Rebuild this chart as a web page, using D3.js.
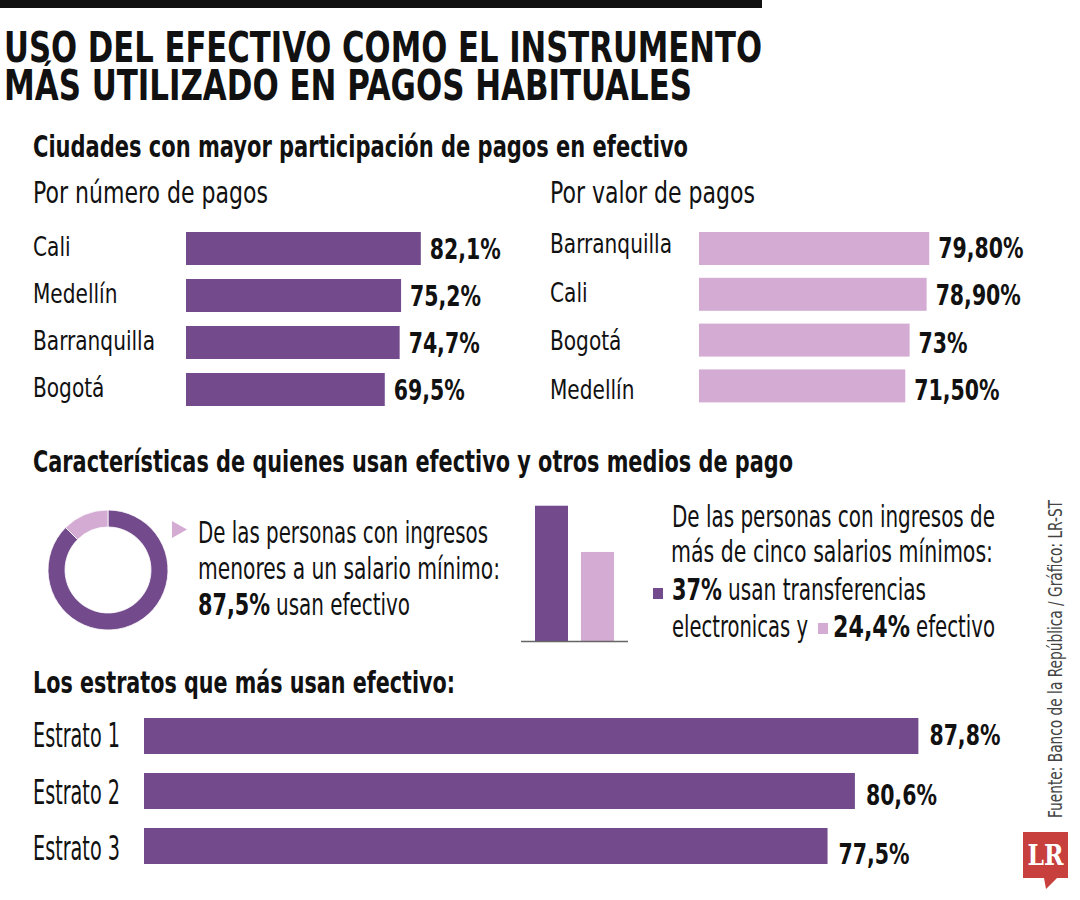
<!DOCTYPE html>
<html><head><meta charset="utf-8">
<script src="https://cdn.jsdelivr.net/npm/d3@7"></script>
<style>body{margin:0;background:#fff} svg{display:block}</style>
</head><body>
<svg id="c" width="1080" height="900"></svg>
<script>
// ---------- DATA ----------
const numCities = ["Cali", "Medellín", "Barranquilla", "Bogotá"];
const numValues = [82.1, 75.2, 74.7, 69.5];
const numLabels = ["82,1%", "75,2%", "74,7%", "69,5%"];

const valCities = ["Barranquilla", "Cali", "Bogotá", "Medellín"];
const valValues = [79.8, 78.9, 73, 71.5];
const valLabels = ["79,80%", "78,90%", "73%", "71,50%"];

const donutParts = ["Efectivo", "Otros"];
const donutValues = [87.5, 12.5];

const highCats = ["Transferencias", "Efectivo"];
const highValues = [37, 24.4];

const strata = ["Estrato 1", "Estrato 2", "Estrato 3"];
const strataValues = [87.8, 80.6, 77.5];
const strataLabels = ["87,8%", "80,6%", "77,5%"];

// ---------- STYLE ----------
const DARK = "#734a8c", LIGHT = "#d4acd3", INK = "#111";
const FONT = "'Liberation Sans Narrow','DejaVu Sans Condensed','Liberation Sans',sans-serif";
const svg = d3.select("#c");

function measure(s, size, bold) {
  const e = svg.append("text").attr("font-family", FONT).attr("font-size", size)
    .attr("font-weight", bold ? 700 : 400).text(s);
  const w = e.node().getComputedTextLength(); e.remove(); return w;
}
function txt(g, x, y, s, o = {}) {
  const e = g.append("text").attr("x", x).attr("y", y).text(s)
    .attr("font-family", FONT).attr("font-size", o.size || 27)
    .attr("font-weight", o.bold ? 700 : 400).attr("fill", o.fill || INK);
  if (o.anchor) e.attr("text-anchor", o.anchor);
  if (o.w) e.attr("textLength", o.w).attr("lengthAdjust", "spacingAndGlyphs");
  else if (o.k) {
    const n = e.node().getComputedTextLength();
    e.attr("textLength", n * o.k).attr("lengthAdjust", "spacingAndGlyphs");
  }
  return e;
}
// condensing factors derived from reference text widths
const kReg = 122 / measure("Barranquilla", 27, false);
const kBold = 71 / measure("82,1%", 28, true);
const kRegBig = 87 / measure("Estrato 1", 33, false);

// ---------- HEADER ----------
svg.append("rect").attr("x", 0).attr("y", 0).attr("width", 762).attr("height", 8).attr("fill", INK);
txt(svg, 4, 62, "USO DEL EFECTIVO COMO EL INSTRUMENTO", {size: 43, bold: true, w: 758});
txt(svg, 4, 100, "MÁS UTILIZADO EN PAGOS HABITUALES", {size: 43, bold: true, w: 688});
txt(svg, 33, 157, "Ciudades con mayor participación de pagos en efectivo", {size: 30, bold: true, w: 655});
txt(svg, 33, 203, "Por número de pagos", {size: 31, w: 235});
txt(svg, 550, 203, "Por valor de pagos", {size: 31, w: 205});

// ---------- LEFT BARS (por número) ----------
const xL = d3.scaleLinear().domain([0, 100]).range([186, 186 + 286]);
const yL = d3.scaleBand().domain(numCities).range([232, 232 + 3 * 47 + 33]).paddingInner(14 / 47).paddingOuter(0);
const gL = svg.append("g");
gL.selectAll("rect").data(numCities).join("rect")
  .attr("x", xL(0)).attr("y", d => yL(d))
  .attr("width", (d, i) => xL(numValues[i]) - xL(0)).attr("height", yL.bandwidth())
  .attr("fill", DARK);
numCities.forEach((c, i) => {
  txt(gL, 33, yL(c) + 24, c, {size: 27, k: kReg});
  txt(gL, xL(numValues[i]) + 9, yL(c) + 27, numLabels[i], {size: 28, bold: true, k: kBold});
});

// ---------- RIGHT BARS (por valor) ----------
const xR = d3.scaleLinear().domain([0, 100]).range([699, 699 + 288.5]);
const yR = d3.scaleBand().domain(valCities).range([232, 232 + 3 * 45.8 + 33]).paddingInner(12.8 / 45.8).paddingOuter(0);
const yRlab = d3.scalePoint().domain(valCities).range([253, 253 + 3 * 48.7]);
const yRval = d3.scalePoint().domain(valCities).range([258, 258 + 3 * 47.3]);
const gR = svg.append("g");
gR.selectAll("rect").data(valCities).join("rect")
  .attr("x", xR(0)).attr("y", d => yR(d))
  .attr("width", (d, i) => xR(valValues[i]) - xR(0)).attr("height", yR.bandwidth())
  .attr("fill", LIGHT);
valCities.forEach((c, i) => {
  txt(gR, 550, yRlab(c), c, {size: 27, k: kReg});
  txt(gR, xR(valValues[i]) + 9, yRval(c), valLabels[i], {size: 28, bold: true, k: kBold});
});

// ---------- SECTION 2 ----------
txt(svg, 33, 472, "Características de quienes usan efectivo y otros medios de pago", {size: 30, bold: true, w: 760});

// donut
const pie = d3.pie().sort(null).value(d => d);
const arc = d3.arc().innerRadius(43).outerRadius(60);
const gD = svg.append("g").attr("transform", "translate(108,570)");
gD.selectAll("path").data(pie(donutValues)).join("path")
  .attr("d", arc).attr("fill", (d, i) => i === 0 ? DARK : LIGHT)
  .attr("stroke", "#fff").attr("stroke-width", 0.8);
svg.append("path").attr("d", "M172,521 L187,529.5 L172,538 Z").attr("fill", LIGHT);
txt(svg, 198, 543, "De las personas con ingresos", {size: 30, w: 290});
txt(svg, 198, 579, "menores a un salario mínimo:", {size: 30, w: 302});
txt(svg, 198, 615, "87,5%", {size: 30, bold: true, w: 72});
txt(svg, 276, 615, "usan efectivo", {size: 30, w: 134});

// mini bar chart
const xM = d3.scaleBand().domain(highCats).range([535, 614]).paddingInner(13 / 46).paddingOuter(0);
const yM = d3.scaleLinear().domain([0, 100]).range([641.5, 641.5 - 367]);
svg.append("g").selectAll("rect").data(highCats).join("rect")
  .attr("x", d => xM(d)).attr("y", (d, i) => yM(highValues[i]))
  .attr("width", xM.bandwidth()).attr("height", (d, i) => yM(0) - yM(highValues[i]))
  .attr("fill", (d, i) => i === 0 ? DARK : LIGHT);
svg.append("line").attr("x1", 521).attr("x2", 628).attr("y1", 641.5).attr("y2", 641.5)
  .attr("stroke", "#666").attr("stroke-width", 1.6);

txt(svg, 672, 527, "De las personas con ingresos de", {size: 30, w: 323});
txt(svg, 671, 562, "más de cinco salarios mínimos:", {size: 30, w: 322});
svg.append("rect").attr("x", 653).attr("y", 588).attr("width", 10).attr("height", 11).attr("fill", DARK);
txt(svg, 672, 600, "37%", {size: 30, bold: true, w: 50});
txt(svg, 728, 600, "usan transferencias", {size: 30, w: 198});
txt(svg, 672, 637, "electronicas y", {size: 30, w: 136});
svg.append("rect").attr("x", 818).attr("y", 623).attr("width", 10).attr("height", 11).attr("fill", LIGHT);
txt(svg, 833, 637, "24,4%", {size: 30, bold: true, w: 77});
txt(svg, 916, 637, "efectivo", {size: 30, w: 79});

// ---------- SECTION 3 : ESTRATOS ----------
txt(svg, 33, 693, "Los estratos que más usan efectivo:", {size: 30, bold: true, w: 422});
const xS = d3.scaleLinear().domain([0, 100]).range([144, 144 + 882]);
const yS = d3.scaleBand().domain(strata).range([718, 718 + 2 * 55 + 36]).paddingInner(19 / 55).paddingOuter(0);
const ySlab = d3.scalePoint().domain(strata).range([747, 747 + 2 * 56.5]);
const ySval = d3.scalePoint().domain(strata).range([745, 745 + 2 * 59.5]);
const gS = svg.append("g");
gS.selectAll("rect").data(strata).join("rect")
  .attr("x", xS(0)).attr("y", d => yS(d))
  .attr("width", (d, i) => xS(strataValues[i]) - xS(0)).attr("height", yS.bandwidth())
  .attr("fill", DARK);
strata.forEach((s, i) => {
  txt(gS, 33, ySlab(s), s, {size: 33, k: kRegBig});
  txt(gS, xS(strataValues[i]) + 11, ySval(s), strataLabels[i], {size: 28, bold: true, k: kBold});
});

// ---------- SOURCE + LOGO ----------
txt(svg, 0, 0, "Fuente: Banco de la República / Gráfico: LR-ST", {size: 20, fill: "#444", w: 318})
  .attr("transform", "translate(1062,818) rotate(-90)");
svg.append("path").attr("d", "M1023,832 H1068 V878 H1057 L1046,889 L1044,878 H1023 Z").attr("fill", "#c8403d");
svg.append("text").attr("x", 1045.5).attr("y", 865).attr("text-anchor", "middle")
  .attr("font-family", "'DejaVu Serif','Liberation Serif',serif").attr("font-weight", 700)
  .attr("font-size", 28).attr("fill", "#fff").attr("textLength", 36).attr("lengthAdjust", "spacingAndGlyphs").text("LR");
</script>
</body></html>
